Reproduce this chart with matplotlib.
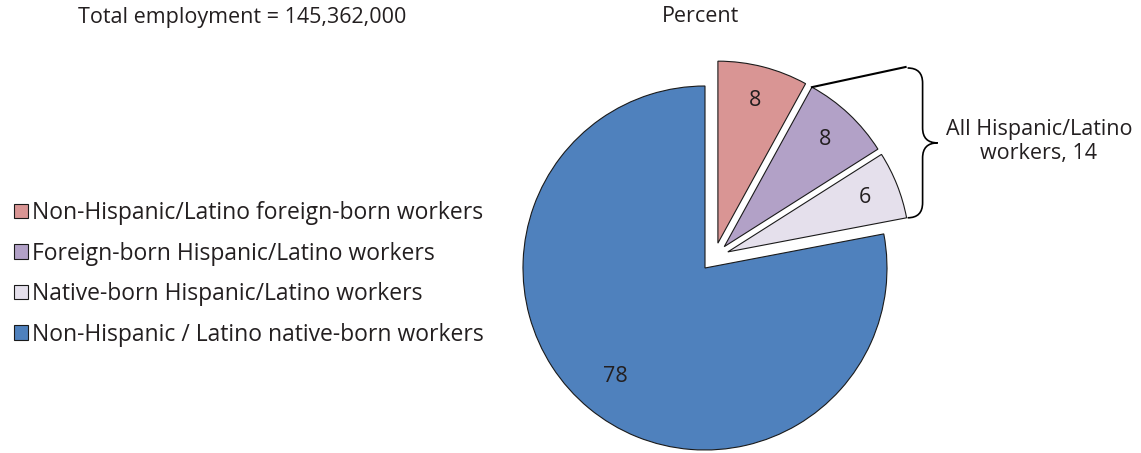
import numpy as np
import matplotlib.pyplot as plt
from matplotlib.path import Path
from matplotlib.patches import PathPatch

plt.rcParams['font.family'] = ['Open Sans', 'DejaVu Sans']

# shares of total employment, percent (clockwise from the top)
categories = ['Non-Hispanic/Latino foreign-born workers',
              'Foreign-born Hispanic/Latino workers',
              'Native-born Hispanic/Latino workers',
              'Non-Hispanic / Latino native-born workers']
values = [8, 8, 6, 78]
colors = ['#d99594', '#b2a1c7', '#e5e0ec', '#4f81bd']
total_label = 'Total employment = 145,362,000'
group_label = 'All Hispanic/Latino\nworkers, 14'

txt = '#231f20'
fs = 15.5

fig = plt.figure(figsize=(11.41, 4.53), dpi=100)
# 1 data unit = pie radius = 182 px, pie centre at pixel (705, 268)
R = 182.0
ax = fig.add_axes([0, 0, 1, 1])

small = np.array(values[:3]) / 100
wprops = dict(edgecolor='#1a1a1a', linewidth=0.8)

# the three small slices, pulled out as a group and then one by one
shift = (0.051, 0.059)
w_small, _, t_small = ax.pie(small, explode=[0.08] * 3, center=shift,
                             startangle=90, counterclock=False, normalize=False,
                             colors=colors[:3], wedgeprops=wprops,
                             autopct=lambda p: f'{p:.0f}', pctdistance=0.81,
                             textprops=dict(color=txt, fontsize=fs))
start_big = 90 - 360 * small.sum()
w_big, _, t_big = ax.pie([values[3] / 100], startangle=start_big, counterclock=False,
                         normalize=False, colors=colors[3:], wedgeprops=wprops,
                         autopct=lambda p: f'{p:.0f}', pctdistance=0.775,
                         textprops=dict(color=txt, fontsize=fs))

ax.set_xlim(-705 / R, (1141 - 705) / R)
ax.set_ylim(-(453 - 268) / R, 268 / R)
ax.set_aspect('equal')
ax.axis('off')

# bracket for the Hispanic/Latino slices
purple = w_small[1]
cx, cy = purple.center
a = np.deg2rad(purple.theta2)
p_corner = (cx + np.cos(a), cy + np.sin(a))
light = w_small[2]
lx, ly = light.center
b = np.deg2rad(light.theta1)
bot = (lx + np.cos(b), ly + np.sin(b))

x0 = bot[0] + 1 / R
y_top = (268 - 68) / R
y_bot = bot[1]
y_mid = (y_top + y_bot) / 2
w = 15 / R
q = 15 / R
verts = [(x0, y_top), (x0 + w, y_top), (x0 + w, y_top - q),
         (x0 + w, y_mid + q),
         (x0 + w, y_mid), (x0 + 2 * w, y_mid),
         (x0 + w, y_mid), (x0 + w, y_mid - q),
         (x0 + w, y_bot + q),
         (x0 + w, y_bot), (x0, y_bot)]
codes = [Path.MOVETO, Path.CURVE3, Path.CURVE3, Path.LINETO,
         Path.CURVE3, Path.CURVE3, Path.CURVE3, Path.CURVE3,
         Path.LINETO, Path.CURVE3, Path.CURVE3]
ax.add_patch(PathPatch(Path(verts, codes), facecolor='none', edgecolor='black', linewidth=1.2))
ax.plot([p_corner[0], x0 - 2 / R], [p_corner[1], y_top + 1 / R], color='black', linewidth=1.5)

ax.text(x0 + 2 * w + 8 / R, y_mid + 1 / R, group_label, ha='left', va='center',
        multialignment='center', color=txt, fontsize=fs, linespacing=1.2)

fig.text(78 / 1141, 1 - 17 / 453, total_label, ha='left', va='center', color=txt, fontsize=fs)
fig.text(700 / 1141, 1 - 17 / 453, 'Percent', ha='center', va='center', color=txt, fontsize=fs)

fig.legend(handles=list(w_small) + list(w_big), labels=categories,
           loc='upper left', bbox_to_anchor=(5 / 1141, 1 - 192 / 453), frameon=False,
           fontsize=16.5, labelcolor=txt, handlelength=0.6, handleheight=0.6,
           handletextpad=0.2, labelspacing=0.72, borderaxespad=0, borderpad=0.4)

fig.savefig('out.png', dpi=100)
